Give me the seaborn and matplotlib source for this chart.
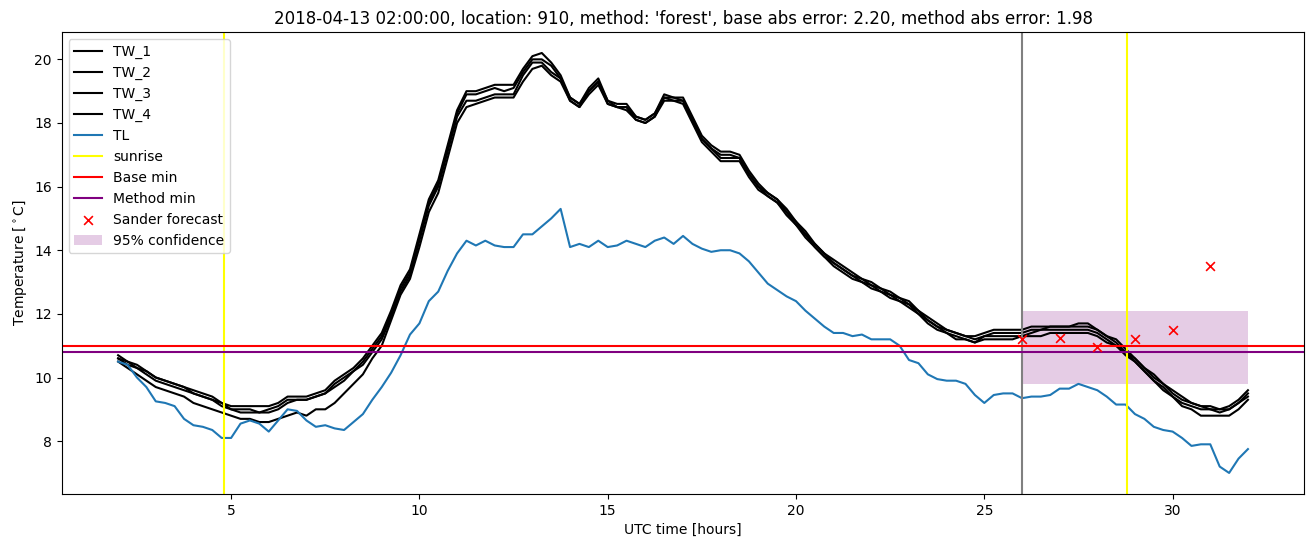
import numpy as np
import matplotlib
matplotlib.use("Agg")
import matplotlib.pyplot as plt
import seaborn as sns

# hours since 00 UTC on the forecast day, 15 min steps
hours = np.arange(2.0, 32.001, 0.25)

tw_1 = [10.7, 10.5, 10.4, 10.2, 10.0, 9.9, 9.8, 9.7, 9.6, 9.5, 9.4, 9.2,
        9.1, 9.1, 9.1, 9.1, 9.1, 9.2, 9.4, 9.4, 9.4, 9.5, 9.6, 9.9,
        10.1, 10.3, 10.6, 11.0, 11.4, 12.1, 12.9, 13.4, 14.5, 15.6, 16.2, 17.3,
        18.4, 19.0, 19.0, 19.1, 19.2, 19.2, 19.2, 19.7, 20.1, 20.2, 19.9, 19.5,
        18.8, 18.6, 19.1, 19.4, 18.7, 18.6, 18.6, 18.2, 18.1, 18.3, 18.9, 18.8,
        18.8, 18.2, 17.6, 17.3, 17.1, 17.1, 17.0, 16.5, 16.1, 15.8, 15.6, 15.3,
        14.9, 14.6, 14.2, 13.9, 13.7, 13.5, 13.3, 13.1, 13.0, 12.8, 12.7, 12.5,
        12.4, 12.1, 11.9, 11.7, 11.5, 11.4, 11.3, 11.3, 11.4, 11.5, 11.5, 11.5,
        11.5, 11.6, 11.6, 11.6, 11.6, 11.6, 11.7, 11.7, 11.5, 11.3, 11.2, 10.9,
        10.6, 10.3, 10.1, 9.8, 9.6, 9.4, 9.2, 9.1, 9.1, 9.0, 9.1, 9.3, 9.6]
tw_2 = [10.6, 10.5, 10.3, 10.2, 10.0, 9.9, 9.8, 9.7, 9.5, 9.4, 9.3, 9.2,
        9.0, 9.0, 9.0, 8.9, 9.0, 9.1, 9.3, 9.3, 9.3, 9.4, 9.5, 9.8,
        10.0, 10.2, 10.5, 10.9, 11.3, 12.0, 12.8, 13.3, 14.4, 15.5, 16.1, 17.2,
        18.3, 18.9, 18.9, 19.0, 19.1, 19.0, 19.1, 19.6, 20.0, 20.0, 19.8, 19.4,
        18.8, 18.6, 19.0, 19.3, 18.7, 18.5, 18.5, 18.2, 18.1, 18.3, 18.8, 18.8,
        18.7, 18.1, 17.5, 17.2, 17.0, 17.0, 16.9, 16.4, 16.0, 15.8, 15.6, 15.2,
        14.9, 14.5, 14.2, 13.9, 13.6, 13.4, 13.2, 13.1, 12.9, 12.8, 12.6, 12.5,
        12.3, 12.1, 11.8, 11.6, 11.5, 11.4, 11.3, 11.2, 11.3, 11.4, 11.4, 11.4,
        11.4, 11.5, 11.5, 11.6, 11.6, 11.6, 11.6, 11.6, 11.5, 11.3, 11.1, 10.8,
        10.6, 10.3, 10.0, 9.8, 9.5, 9.3, 9.2, 9.1, 9.0, 9.0, 9.0, 9.2, 9.5]
tw_3 = [10.6, 10.4, 10.3, 10.1, 9.9, 9.8, 9.7, 9.6, 9.5, 9.4, 9.3, 9.1,
        9.0, 8.9, 8.9, 8.9, 8.9, 9.0, 9.2, 9.3, 9.3, 9.4, 9.5, 9.7,
        9.9, 10.2, 10.4, 10.8, 11.2, 11.9, 12.7, 13.2, 14.3, 15.4, 16.0, 17.1,
        18.2, 18.7, 18.7, 18.8, 18.9, 18.9, 18.9, 19.5, 19.9, 19.9, 19.6, 19.4,
        18.7, 18.5, 19.0, 19.3, 18.6, 18.5, 18.5, 18.1, 18.0, 18.2, 18.8, 18.7,
        18.7, 18.1, 17.5, 17.2, 16.9, 16.9, 16.9, 16.4, 16.0, 15.7, 15.5, 15.2,
        14.8, 14.5, 14.1, 13.8, 13.6, 13.4, 13.2, 13.0, 12.9, 12.7, 12.6, 12.4,
        12.3, 12.0, 11.8, 11.6, 11.4, 11.3, 11.2, 11.1, 11.3, 11.3, 11.3, 11.3,
        11.3, 11.4, 11.5, 11.5, 11.5, 11.5, 11.5, 11.5, 11.4, 11.2, 11.0, 10.8,
        10.5, 10.2, 9.9, 9.7, 9.4, 9.2, 9.1, 9.0, 9.0, 8.9, 9.0, 9.2, 9.4]
tw_4 = [10.5, 10.3, 10.1, 9.9, 9.7, 9.6, 9.5, 9.4, 9.2, 9.1, 9.0, 8.9,
        8.8, 8.7, 8.7, 8.6, 8.6, 8.7, 8.8, 8.9, 8.8, 9.0, 9.0, 9.2,
        9.5, 9.8, 10.1, 10.6, 11.0, 11.8, 12.6, 13.1, 14.1, 15.2, 15.8, 16.9,
        18.0, 18.5, 18.6, 18.7, 18.8, 18.8, 18.8, 19.3, 19.7, 19.8, 19.5, 19.3,
        18.7, 18.5, 18.9, 19.2, 18.6, 18.5, 18.4, 18.1, 18.0, 18.2, 18.7, 18.7,
        18.6, 18.0, 17.4, 17.1, 16.8, 16.8, 16.8, 16.3, 15.9, 15.7, 15.5, 15.1,
        14.8, 14.4, 14.1, 13.8, 13.5, 13.3, 13.1, 13.0, 12.8, 12.7, 12.5, 12.4,
        12.2, 12.0, 11.7, 11.5, 11.4, 11.2, 11.2, 11.1, 11.2, 11.2, 11.2, 11.2,
        11.3, 11.3, 11.3, 11.4, 11.4, 11.4, 11.4, 11.4, 11.3, 11.1, 11.0, 10.7,
        10.5, 10.2, 9.9, 9.6, 9.4, 9.1, 9.0, 8.8, 8.8, 8.8, 8.8, 9.0, 9.3]
tl = [10.5, 10.4, 10.0, 9.7, 9.25, 9.2, 9.1, 8.7, 8.5, 8.45, 8.35, 8.1,
      8.1, 8.55, 8.65, 8.55, 8.3, 8.65, 9.0, 8.95, 8.65, 8.45, 8.5, 8.4,
      8.35, 8.6, 8.85, 9.3, 9.7, 10.15, 10.7, 11.35, 11.7, 12.4, 12.7, 13.35,
      13.9, 14.3, 14.15, 14.3, 14.15, 14.1, 14.1, 14.5, 14.5, 14.75, 15.0, 15.3,
      14.1, 14.2, 14.1, 14.3, 14.1, 14.15, 14.3, 14.2, 14.1, 14.3, 14.4, 14.2,
      14.45, 14.2, 14.05, 13.95, 14.0, 14.0, 13.9, 13.65, 13.3, 12.95, 12.75, 12.55,
      12.4, 12.1, 11.85, 11.6, 11.4, 11.4, 11.3, 11.35, 11.2, 11.2, 11.2, 11.0,
      10.55, 10.45, 10.1, 9.95, 9.9, 9.9, 9.8, 9.45, 9.2, 9.45, 9.5, 9.5,
      9.35, 9.4, 9.4, 9.45, 9.65, 9.65, 9.8, 9.7, 9.6, 9.4, 9.15, 9.15,
      8.85, 8.7, 8.45, 8.35, 8.3, 8.1, 7.85, 7.9, 7.9, 7.2, 7.0, 7.45, 7.75]

sunrise = [4.8, 28.8]
forecast_start = 26.0
base_min = 11.0
method_min = 10.8
sander_hours = [26, 27, 28, 29, 30, 31]
sander_temp = [11.2, 11.25, 10.95, 11.2, 11.5, 13.5]
conf_hours = [26.0, 32.0]
conf_low = 9.8
conf_high = 12.1

title = ("2018-04-13 02:00:00, location: 910, method: 'forest', "
         "base abs error: 2.20, method abs error: 1.98")

fig, ax = plt.subplots(figsize=(13.11, 5.47), dpi=100)
fig.subplots_adjust(left=0.047, right=0.995, top=0.9415, bottom=0.097)

for name, vals in [("TW_1", tw_1), ("TW_2", tw_2), ("TW_3", tw_3), ("TW_4", tw_4)]:
    sns.lineplot(x=hours, y=vals, ax=ax, color="black", label=name)
sns.lineplot(x=hours, y=tl, ax=ax, color="C0", label="TL")

ax.axvline(sunrise[0], color="yellow", label="sunrise")
ax.axvline(sunrise[1], color="yellow")
ax.axvline(forecast_start, color="gray")
ax.axhline(base_min, color="red", label="Base min")
ax.axhline(method_min, color="purple", label="Method min")

sns.scatterplot(x=sander_hours, y=sander_temp, ax=ax, marker="x", color="red",
                s=40, linewidth=1.2, label="Sander forecast", zorder=3)
ax.fill_between(conf_hours, conf_low, conf_high, color="purple", alpha=0.2,
                linewidth=0, label="95% confidence")

ax.set_title(title)
ax.set_xlabel("UTC time [hours]")
ax.set_ylabel(r"Temperature [$^\circ$C]")
ax.legend(loc="upper left")

fig.savefig("out.png")
